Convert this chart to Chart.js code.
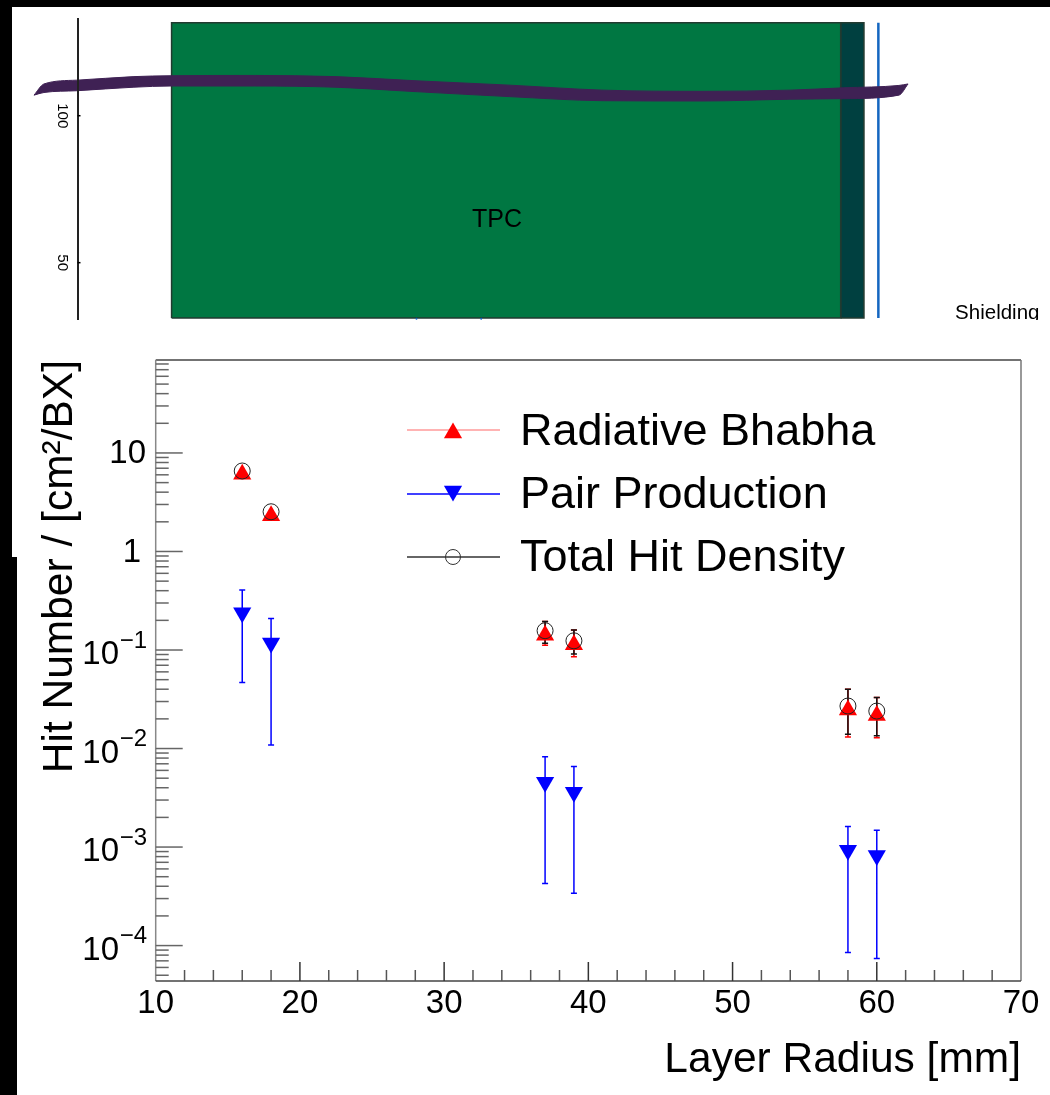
<!DOCTYPE html>
<html>
<head>
<meta charset="utf-8">
<title>Hit density</title>
<script src="https://cdn.jsdelivr.net/npm/chart.js@4"></script>
<style>
  html, body { margin: 0; padding: 0; background: #000; width: 1050px; height: 1095px; overflow: hidden; }
  .panel { position: absolute; background: #fff; }
  #panel-top { left: 12px; top: 7px; width: 1038px; height: 550px; }
  #panel-bottom { left: 17px; top: 557px; width: 1033px; height: 538px; }
  canvas { position: absolute; left: 0; top: 0; }
</style>
</head>
<body>
<div class="panel" id="panel-top"></div>
<div class="panel" id="panel-bottom"></div>
<canvas id="main-chart" width="1050" height="1095"></canvas>
<canvas id="detector-chart" width="1050" height="320"></canvas>
<script>
// hit density values
const layerRadius = [16, 18, 37, 39, 58, 60];

const bhabhaValues = [6.07, 2.3, 0.141, 0.113, 0.0246, 0.0216];
const bhabhaLow = [null, null, 0.112, 0.0853, 0.0131, 0.0129];
const bhabhaHigh = [null, null, 0.195, 0.16, 0.04, 0.0329];

const pairValues = [0.239, 0.118, 0.00456, 0.00361, 0.000927, 0.00082];
const pairLow = [0.0467, 0.01084, 0.000427, 0.00034, 0.000085, 0.000074];
const pairHigh = [0.407, 0.209, 0.00824, 0.00658, 0.00162, 0.00148];

const totalValues = [6.56, 2.53, 0.157, 0.124, 0.027, 0.024];
const totalLow = [null, null, 0.117, 0.091, 0.014, 0.0135];
const totalHigh = [null, null, 0.195, 0.16, 0.04, 0.0329];

const xMajorTicks = [10, 20, 30, 40, 50, 60, 70];
const xMinorTicks = [12, 14, 16, 18, 22, 24, 26, 28, 32, 34, 36, 38, 42, 44, 46, 48, 52, 54, 56, 58, 62, 64, 66, 68];
const yPowers = [1, 0, -1, -2, -3, -4];
const yMinorFactors = [2, 3, 4, 5, 6, 7, 8, 9];

const legendLabels = ['Radiative Bhabha', 'Pair Production', 'Total Hit Density'];

// detector sketch above the plot
const detectorTicks = [100, 50];
const tpcX = [32, 32, 259.6, 259.6, 32];
const yokeX = [259.6, 259.6, 267.5, 267.5, 259.6];
const boxY = [31.2, 131.6, 131.6, 31.2, 31.2];
const tpcFillX = [32, 259.6];
const yokeFillX = [259.6, 267.5];
const fillTopY = [131.6, 131.6];
const shieldX = [272.4, 272.4];
const shieldY = [31.2, 131.6];
const trackX = [-14.8, -11.4, -0.2, 19.2, 31.8, 60.2, 87.6, 114.8, 146.8, 178.7, 212.8, 242.3, 260.7, 279.4, 282.5];
const trackTop = [107, 110.8, 112.1, 113.3, 113.6, 113.7, 113.3, 111.9, 110.4, 108.7, 108.3, 108.7, 109.5, 110.3, 110.8];
const trackBottom = [107, 107.9, 108.5, 109.7, 110.1, 110.1, 109.7, 108.2, 106.5, 105.1, 105, 105.6, 105.8, 107, 110.8];
const cutMarksX = [115.3, 137.3];
const cutMarksY = [30.9, 30.9];

const FONT = "'Liberation Sans', Arial, sans-serif";
const RED = '#ff0000';
const BLUE = '#0000ff';
const BLACK = '#111111';
const TRACK = '#3f2154';

function toPoints(xs, ys) {
  return xs.map((x, i) => ({ x, y: ys[i] }));
}

// each error bar is two points, with a null between bars to break the line
function errorPoints(lows, highs) {
  return layerRadius.flatMap((x, i) => [
    { x, y: lows[i] },
    { x, y: highs[i] },
    { x, y: null },
  ]);
}

function errorDataset(lows, highs, color, order) {
  return {
    data: errorPoints(lows, highs),
    showLine: true,
    spanGaps: false,
    borderColor: color,
    borderWidth: 1.5,
    pointStyle: 'line',
    pointRadius: 3,
    pointBorderColor: color,
    pointBorderWidth: 1.5,
    order,
  };
}

function markerDataset(label, values, color, style, rotation, order) {
  return {
    label,
    data: toPoints(layerRadius, values),
    showLine: false,
    pointStyle: style,
    rotation,
    pointRadius: 10.5,
    pointBackgroundColor: color,
    pointBorderColor: color,
    pointBorderWidth: 0,
    order,
  };
}

// ROOT style frame with the ticks pointing inwards
const framePlugin = {
  id: 'frame',
  afterDraw(chart) {
    const { ctx, chartArea: a, scales } = chart;
    const line = (x1, y1, x2, y2, color, width) => {
      ctx.strokeStyle = color;
      ctx.lineWidth = width;
      ctx.beginPath();
      ctx.moveTo(x1, y1);
      ctx.lineTo(x2, y2);
      ctx.stroke();
    };

    ctx.save();
    line(a.left, a.top, a.right, a.top, '#444', 1.5);
    line(a.right, a.top, a.right, a.bottom, '#777', 1.5);
    line(a.left, a.top, a.left, a.bottom, '#888', 1.5);
    line(a.left, a.bottom, a.right, a.bottom, '#444', 1.5);

    xMajorTicks.slice(1, -1).forEach((v) => {
      const x = scales.x.getPixelForValue(v);
      line(x, a.bottom, x, a.bottom - 19, '#333', 1.5);
    });
    xMinorTicks.forEach((v) => {
      const x = scales.x.getPixelForValue(v);
      line(x, a.bottom, x, a.bottom - 11, '#555', 1.5);
    });

    yPowers.forEach((p) => {
      const y = scales.y.getPixelForValue(Math.pow(10, p));
      line(a.left, y, a.left + 27, y, '#666', 1.5);
    });
    [2, 1, 0, -1, -2, -3, -4, -5].forEach((p) => {
      yMinorFactors.forEach((f) => {
        const v = f * Math.pow(10, p);
        if (v < scales.y.min || v > scales.y.max) return;
        const y = scales.y.getPixelForValue(v);
        line(a.left, y, a.left + 13, y, '#666', 1.5);
      });
    });

    // y tick labels, with the exponent set by hand
    ctx.fillStyle = '#000';
    ctx.textBaseline = 'middle';
    ctx.textAlign = 'right';
    yPowers.forEach((p) => {
      const y = scales.y.getPixelForValue(Math.pow(10, p));
      ctx.font = `33px ${FONT}`;
      if (p === 1) ctx.fillText('10', 146, y + 1);
      else if (p === 0) ctx.fillText('1', 141, y + 1);
      else {
        ctx.fillText('10', 119, y + 5);
        ctx.font = `24px ${FONT}`;
        ctx.fillText('\u2212' + Math.abs(p), 147, y - 9);
      }
    });
    ctx.restore();
  },
};

const legendPlugin = {
  id: 'rootLegend',
  afterDraw(chart) {
    const { ctx } = chart;
    const rows = [
      { y: 430, text: 445, line: '#ff9a9a', color: RED, style: 'triangle', rotation: 0, fill: RED, off: 3 },
      { y: 494, text: 508, line: BLUE, color: BLUE, style: 'triangle', rotation: 180, fill: BLUE, off: -3 },
      { y: 557, text: 571, line: '#333', color: '#333', style: 'circle', rotation: 0, fill: 'rgba(0,0,0,0)', off: 0 },
    ];
    ctx.save();
    rows.forEach((r, i) => {
      ctx.strokeStyle = r.line;
      ctx.lineWidth = 1.5;
      ctx.beginPath();
      ctx.moveTo(407, r.y);
      ctx.lineTo(500, r.y);
      ctx.stroke();

      ctx.fillStyle = r.fill;
      ctx.strokeStyle = r.color;
      ctx.lineWidth = i === 2 ? 1 : 0;
      Chart.helpers.drawPoint(ctx, {
        pointStyle: r.style,
        rotation: r.rotation,
        radius: i === 2 ? 7.5 : 10.5,
        borderWidth: i === 2 ? 1 : 0,
      }, 453, r.y + r.off);

      ctx.fillStyle = '#000';
      ctx.font = `45px ${FONT}`;
      ctx.textAlign = 'left';
      ctx.textBaseline = 'alphabetic';
      ctx.fillText(legendLabels[i], 520, r.text);
    });
    ctx.restore();
  },
};

const detectorLabels = {
  id: 'detectorLabels',
  afterDraw(chart) {
    const { ctx, scales } = chart;
    const axisX = scales.x.getPixelForValue(0);
    ctx.save();
    ctx.fillStyle = '#000';
    ctx.textBaseline = 'alphabetic';
    ctx.textAlign = 'center';
    ctx.font = `25px ${FONT}`;
    ctx.fillText('TPC', scales.x.getPixelForValue(142.7), scales.y.getPixelForValue(62));
    ctx.textAlign = 'left';
    ctx.font = `20.5px ${FONT}`;
    ctx.fillText('Shielding', scales.x.getPixelForValue(298.5), scales.y.getPixelForValue(30.9));

    ctx.strokeStyle = '#000';
    ctx.lineWidth = 1.5;
    detectorTicks.forEach((v) => {
      const y = scales.y.getPixelForValue(v);
      ctx.beginPath();
      ctx.moveTo(axisX, y);
      ctx.lineTo(axisX + 3, y);
      ctx.stroke();

      ctx.save();
      ctx.translate(axisX - 15, y);
      ctx.rotate(Math.PI / 2);
      ctx.textAlign = 'center';
      ctx.textBaseline = 'middle';
      ctx.font = `15px ${FONT}`;
      ctx.fillText(String(v), 0, 0);
      ctx.restore();
    });
    ctx.restore();
  },
};

function buildMainChart(canvas) {
  return new Chart(canvas, {
    type: 'scatter',
    data: {
      datasets: [
        errorDataset(bhabhaLow, bhabhaHigh, RED, 5),
        errorDataset(pairLow, pairHigh, BLUE, 4),
        errorDataset(totalLow, totalHigh, BLACK, 4),
        markerDataset(legendLabels[0], bhabhaValues, RED, 'triangle', 0, 3),
        markerDataset(legendLabels[1], pairValues, BLUE, 'triangle', 180, 3),
        {
          label: legendLabels[2],
          data: toPoints(layerRadius, totalValues),
          showLine: false,
          pointStyle: 'circle',
          pointRadius: 8,
          pointBackgroundColor: 'rgba(0,0,0,0)',
          pointBorderColor: '#222',
          pointBorderWidth: 1,
          order: 1,
        },
      ],
    },
    options: {
      responsive: false,
      animation: false,
      layout: { autoPadding: false, padding: { top: 360, right: 29, left: 0, bottom: 0 } },
      plugins: { legend: { display: false }, tooltip: { enabled: false } },
      scales: {
        x: {
          type: 'linear',
          min: 10,
          max: 70,
          afterBuildTicks: (s) => { s.ticks = xMajorTicks.map((value) => ({ value })); },
          afterFit: (s) => { s.height = 114; },
          grid: { display: false, drawTicks: false },
          border: { display: false },
          ticks: { color: '#000', font: { family: FONT, size: 33 }, padding: 3, maxRotation: 0 },
          title: {
            display: true,
            text: 'Layer Radius [mm]',
            align: 'end',
            color: '#000',
            font: { family: FONT, size: 42.5 },
            padding: { top: 0, bottom: 9 },
          },
        },
        y: {
          type: 'logarithmic',
          min: 4.37e-5,
          max: 87.8,
          afterFit: (s) => { s.width = 155.7; },
          grid: { display: false, drawTicks: false },
          border: { display: false },
          ticks: { display: false },
          title: {
            display: true,
            text: 'Hit Number / [cm\u00b2/BX]',
            align: 'end',
            color: '#000',
            font: { family: FONT, size: 42.5 },
            padding: { top: 35, bottom: 0 },
          },
        },
      },
    },
    plugins: [framePlugin, legendPlugin],
  });
}

function buildDetectorChart(canvas) {
  const boxFill = (xs, color) => ({
    data: toPoints(xs, fillTopY),
    showLine: true,
    pointRadius: 0,
    borderWidth: 0,
    backgroundColor: color,
    fill: { value: boxY[0] },
    order: 5,
  });
  const boxLine = (xs) => ({
    data: toPoints(xs, boxY),
    showLine: true,
    pointRadius: 0,
    borderColor: '#223a30',
    borderWidth: 1.5,
    order: 4,
  });

  return new Chart(canvas, {
    type: 'scatter',
    data: {
      datasets: [
        {
          data: toPoints(trackX, trackTop),
          showLine: true,
          pointRadius: 0,
          borderColor: TRACK,
          borderWidth: 1,
          cubicInterpolationMode: 'monotone',
          backgroundColor: TRACK,
          fill: '+1',
          order: 1,
        },
        {
          data: toPoints(trackX, trackBottom),
          showLine: true,
          pointRadius: 0,
          borderColor: TRACK,
          borderWidth: 1,
          cubicInterpolationMode: 'monotone',
          order: 1,
        },
        boxFill(tpcFillX, '#007742'),
        boxFill(yokeFillX, '#004040'),
        boxLine(tpcX),
        boxLine(yokeX),
        {
          data: toPoints(shieldX, shieldY),
          showLine: true,
          pointRadius: 0,
          borderColor: '#1466c0',
          borderWidth: 2.5,
          order: 2,
        },
        {
          data: toPoints(cutMarksX, cutMarksY),
          showLine: false,
          pointRadius: 1,
          pointBackgroundColor: '#1466c0',
          pointBorderWidth: 0,
          order: 2,
        },
      ],
    },
    options: {
      responsive: false,
      animation: false,
      layout: { autoPadding: false, padding: { top: 19, right: 0, left: 0, bottom: 0 } },
      plugins: { legend: { display: false }, tooltip: { enabled: false } },
      scales: {
        x: {
          type: 'linear',
          min: -26.36,
          max: 330.78,
          display: false,
          afterFit: (s) => { s.height = 0; },
        },
        y: {
          type: 'linear',
          min: 30.5,
          max: 132.9,
          position: { x: 0.3 },
          afterBuildTicks: (s) => { s.ticks = detectorTicks.map((value) => ({ value })); },
          grid: { display: false, drawTicks: false },
          border: { color: '#222', width: 2, z: 2 },
          ticks: { display: false },
        },
      },
    },
    plugins: [detectorLabels],
  });
}

(function initCharts() {
  Chart.defaults.devicePixelRatio = 1;
  buildMainChart(document.getElementById('main-chart'));
  buildDetectorChart(document.getElementById('detector-chart'));
})();
</script>
</body>
</html>
